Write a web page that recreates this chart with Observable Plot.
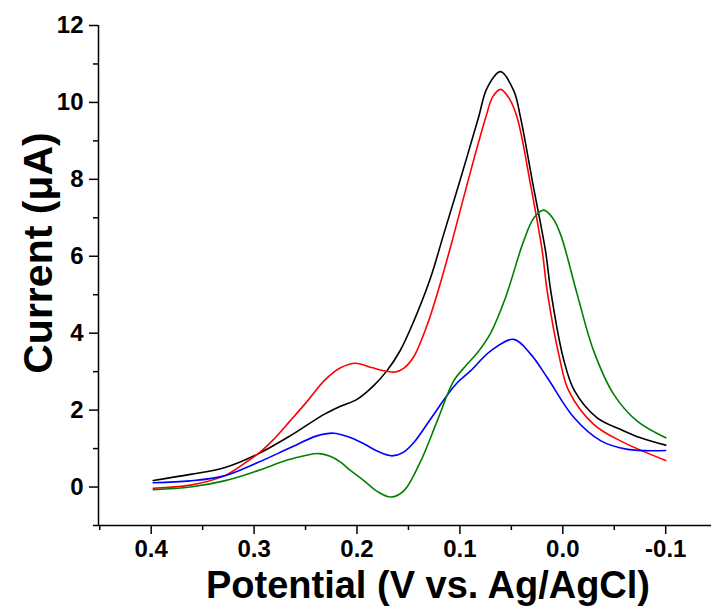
<!DOCTYPE html>
<html>
<head>
<meta charset="utf-8">
<script src="https://cdn.jsdelivr.net/npm/d3@7"></script>
<script src="https://cdn.jsdelivr.net/npm/@observablehq/plot@0.6"></script>
<style>
  html, body { margin: 0; padding: 0; background: #fff; }
  #chart svg { display: block; overflow: visible; }
</style>
</head>
<body>
<div id="chart"></div>
<script>
// ---- Data ----
const blackV = [0.398, 0.362, 0.329, 0.297, 0.265, 0.232, 0.216, 0.200, 0.184, 0.171, 0.158, 0.145, 0.129, 0.116, 0.101, 0.082, 0.0735, 0.0605, 0.0476, 0.041, 0.029, 0.0168, 0.0117, -0.0004, -0.0114, -0.0334, -0.056, -0.0755, -0.100];
const blackI = [0.17, 0.33, 0.50, 0.85, 1.33, 1.89, 2.10, 2.28, 2.63, 3.02, 3.55, 4.30, 5.40, 6.55, 7.87, 9.60, 10.38, 10.80, 10.30, 9.60, 7.87, 6.14, 5.10, 3.36, 2.50, 1.80, 1.50, 1.28, 1.09];

const redV = [0.398, 0.362, 0.329, 0.313, 0.295, 0.281, 0.265, 0.248, 0.232, 0.216, 0.2015, 0.185, 0.171, 0.163, 0.155, 0.145, 0.132, 0.119, 0.1075, 0.093, 0.075, 0.068, 0.0605, 0.052, 0.0443, 0.0314, 0.020, 0.0152, 0.0032, -0.0058, -0.030, -0.056, -0.100];
const redI = [-0.03, 0.05, 0.29, 0.55, 0.89, 1.24, 1.72, 2.24, 2.76, 3.10, 3.22, 3.10, 3.01, 2.99, 3.08, 3.38, 4.20, 5.30, 6.40, 7.87, 9.60, 10.15, 10.34, 10.10, 9.60, 7.87, 6.14, 5.10, 3.36, 2.50, 1.63, 1.20, 0.69];

const blueV = [0.398, 0.362, 0.329, 0.297, 0.265, 0.239, 0.2225, 0.208, 0.193, 0.180, 0.166, 0.155, 0.145, 0.129, 0.112, 0.1026, 0.0897, 0.070, 0.0476, 0.031, 0.015, -0.011, -0.037, -0.063, -0.100];
const blueI = [0.11, 0.16, 0.29, 0.63, 1.02, 1.33, 1.40, 1.30, 1.12, 0.93, 0.81, 0.90, 1.15, 1.75, 2.40, 2.71, 3.02, 3.54, 3.84, 3.45, 2.84, 1.80, 1.20, 0.98, 0.95];

const greenV = [0.398, 0.362, 0.329, 0.297, 0.265, 0.237, 0.226, 0.216, 0.2095, 0.193, 0.180, 0.167, 0.1545, 0.138, 0.122, 0.106, 0.093, 0.083, 0.070, 0.056, 0.038, 0.028, 0.0185, 0.010, 0.0022, -0.014, -0.030, -0.0495, -0.072, -0.100];
const greenI = [-0.07, 0.00, 0.16, 0.42, 0.72, 0.87, 0.80, 0.65, 0.50, 0.16, -0.12, -0.26, -0.10, 0.68, 1.72, 2.76, 3.19, 3.49, 4.01, 4.90, 6.40, 7.00, 7.20, 7.00, 6.57, 5.01, 3.54, 2.41, 1.72, 1.28];

const seriesNames = ["black", "red", "blue", "green"];
const seriesColors = ["#000000", "#ff0000", "#0000ff", "#008000"];

const xMajor = [0.4, 0.3, 0.2, 0.1, 0.0, -0.1];
const xMajorLabels = ["0.4", "0.3", "0.2", "0.1", "0.0", "-0.1"];
const xMinor = [0.45, 0.35, 0.25, 0.15, 0.05, -0.05];
const yMajor = [0, 2, 4, 6, 8, 10, 12];
const yMinor = [-1, 1, 3, 5, 7, 9, 11];
const xDomain = [0.4512, -0.1445];
const yDomain = [-1, 12];

const xTitle = "Potential (V vs. Ag/AgCl)";
const yTitle = "Current (\u03BCA)";

// ---- Build table ----
const pairs = [[blackV, blackI], [redV, redI], [blueV, blueI], [greenV, greenI]];
const rows = [];
pairs.forEach(([vs, is], k) => vs.forEach((v, i) => rows.push({series: seriesNames[k], v, i: is[i]})));

const font = "'Liberation Sans', Arial, Helvetica, sans-serif";

const plot = Plot.plot({
  width: 711,
  height: 607,
  marginLeft: 98,
  marginRight: 0,
  marginTop: 25,
  marginBottom: 82,
  style: {fontFamily: font, fontWeight: "bold", fontSize: "24px", background: "white", color: "black"},
  x: {domain: xDomain},
  y: {domain: yDomain},
  color: {domain: seriesNames, range: seriesColors},
  marks: [
    Plot.axisX({ticks: xMajor, tickSize: 9, tickPadding: 5, strokeWidth: 1.5,
      tickFormat: d => xMajorLabels[xMajor.indexOf(d)], fontSize: 24, fontWeight: "bold", label: null}),
    Plot.axisX({ticks: xMinor, tickSize: 5, strokeWidth: 1.5, tickFormat: () => "", label: null}),
    Plot.axisY({ticks: yMajor, tickSize: 9, tickPadding: 6, strokeWidth: 1.5,
      tickFormat: d => String(d), fontSize: 24, fontWeight: "bold", label: null}),
    Plot.axisY({ticks: yMinor, tickSize: 5, strokeWidth: 1.5, tickFormat: () => "", label: null}),
    Plot.ruleY([yDomain[0]], {strokeWidth: 1.5}),
    Plot.ruleX([xDomain[0]], {strokeWidth: 1.5}),
    Plot.line(rows, {x: "v", y: "i", z: "series", stroke: "series", strokeWidth: 1.6, curve: "catmull-rom"})
  ]
});

document.getElementById("chart").appendChild(plot);

const svg = d3.select(plot);
svg.append("text")
  .attr("x", 428).attr("y", 598)
  .attr("text-anchor", "middle")
  .attr("font-family", font).attr("font-weight", "bold").attr("font-size", 38)
  .attr("fill", "black")
  .text(xTitle);
svg.append("text")
  .attr("transform", "translate(37,253) rotate(-90)")
  .attr("text-anchor", "middle")
  .attr("dy", "0.36em")
  .attr("font-family", font).attr("font-weight", "bold").attr("font-size", 41)
  .attr("fill", "black")
  .text(yTitle);
</script>
</body>
</html>
